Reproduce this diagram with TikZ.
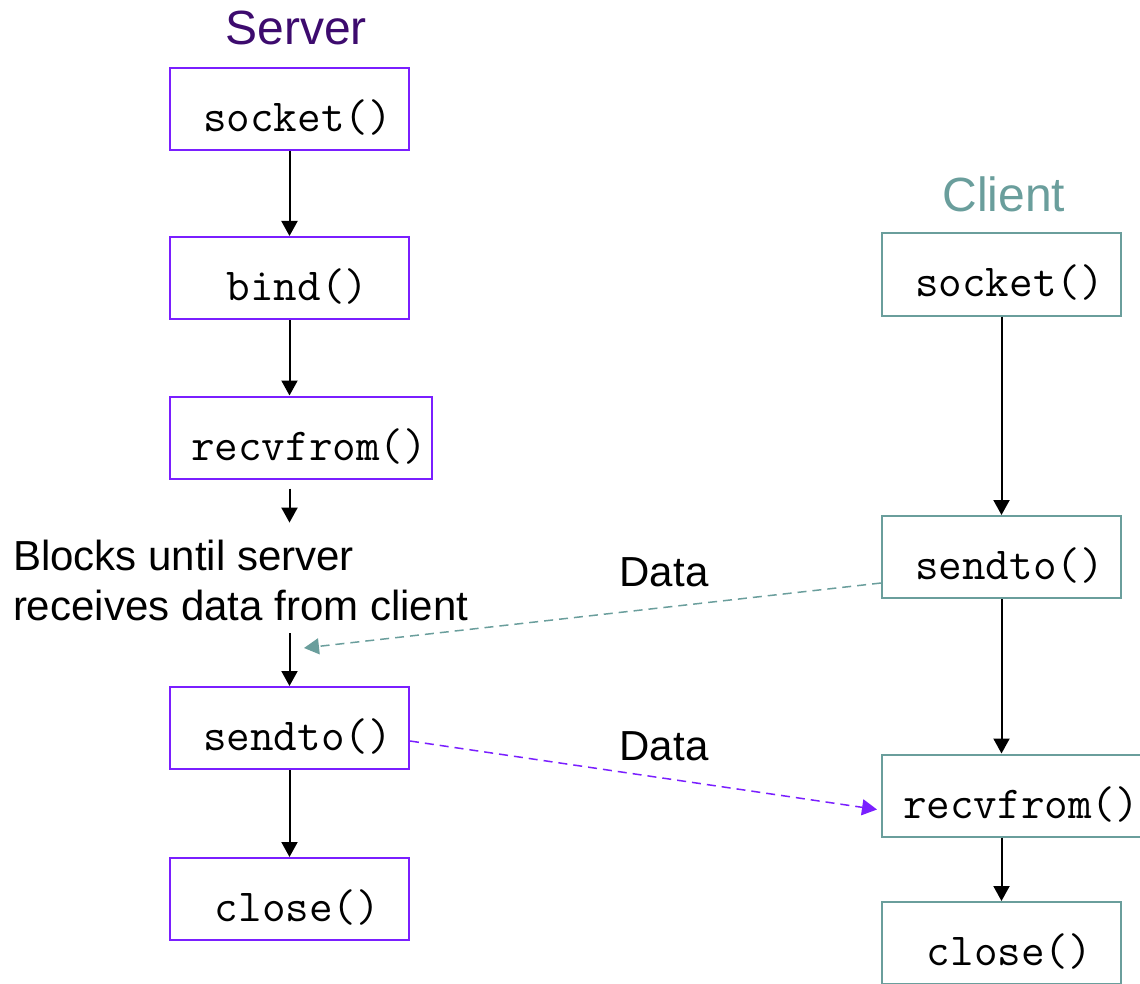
\documentclass[tikz,border=0pt]{standalone}
\usepackage{fontspec}
\setmainfont{Liberation Sans}
\usetikzlibrary{arrows.meta}
\definecolor{srvpurple}{HTML}{7A1FFF}
\definecolor{srvtitle}{HTML}{3D0B6E}
\definecolor{cliteal}{HTML}{6A9E9C}
\tikzset{%
  >={Triangle[width=8pt,length=7.5pt]},
  % Specifications for style of nodes:
            base/.style = {rectangle, draw, line width=1pt, inner sep=0pt,
                           minimum width=119.5pt, minimum height=41pt,
                           text height=22.5pt, text depth=0pt,
                           execute at begin node=\hspace*{8pt},
                           font=\ttfamily\fontsize{22.9}{27}\selectfont},
       srvbox/.style = {base, draw=srvpurple},
       clibox/.style = {base, draw=cliteal},
       widebox/.style = {minimum width=131pt, execute at begin node={}},
       title/.style = {inner sep=0pt, anchor=base, font=\fontsize{24}{28}\selectfont},
       note/.style = {inner sep=0pt, font=\fontsize{21}{25}\selectfont},
       data/.style = {->, line width=0.75pt, dash pattern=on 4.5pt off 3pt},
}

\begin{document}
\begin{tikzpicture}[x=0.5pt, y=-0.5pt, line width=1pt]
  \useasboundingbox (0,0) rectangle (1140,984);
  % Server side
  \node (server)		[title, text=srvtitle] at (296,45) {Server};
  \node (s-socket)		[srvbox] at (289.5,109) {socket()};
  \node (s-bind)		[srvbox] at (289.5,278) {bind()};
  \node (s-recv)		[srvbox, widebox] at (301,437.5) {recvfrom()};
  \node (blocks)		[note, anchor=west, align=left] at (12,580) {Blocks until server\\receives data from client};
  \node (s-send)		[srvbox] at (289.5,728) {sendto()};
  \node (s-close)		[srvbox] at (289.5,899) {close()};

  % Client side
  \node (client)		[title, text=cliteal] at (1004,212) {Client};
  \node (c-socket)		[clibox] at (1001.5,274.5) {socket()};
  \node (c-send)		[clibox] at (1001.5,557) {sendto()};
  \node (c-recv)		[clibox, widebox] at (1013,795.5) {recvfrom()};
  \node (c-close)		[clibox] at (1001.5,943) {close()};

  \node (data1)			[note, anchor=base] at (664,586) {Data};
  \node (data2)			[note, anchor=base] at (664,760) {Data};
  \coordinate (s-wait)	at (304,648);

  \draw[->]		(s-socket) -- (s-bind);
  \draw[->]		(s-bind.south) -- (s-bind.south |- s-recv.north);
  \draw[->]		([yshift=-4.5pt]s-recv.south -| s-send.north) -- ([yshift=8pt]blocks.north -| s-send.north);
  \draw[->]		([yshift=-6pt]blocks.south -| s-send.north) -- (s-send.north);
  \draw[->]		(s-send) -- (s-close);

  \draw[->]		(c-socket) -- (c-send);
  \draw[->]		(c-send.south) -- (c-send.south |- c-recv.north);
  \draw[->]		(c-close.north |- c-recv.south) -- (c-close.north);

  \draw[data, cliteal]	([yshift=-13pt]c-send.west) -- (s-wait);
  \draw[data, srvpurple]	([yshift=-6.5pt]s-send.east) -- ([yshift=-7pt,xshift=-2pt]c-recv.west);
\end{tikzpicture}
\end{document}
